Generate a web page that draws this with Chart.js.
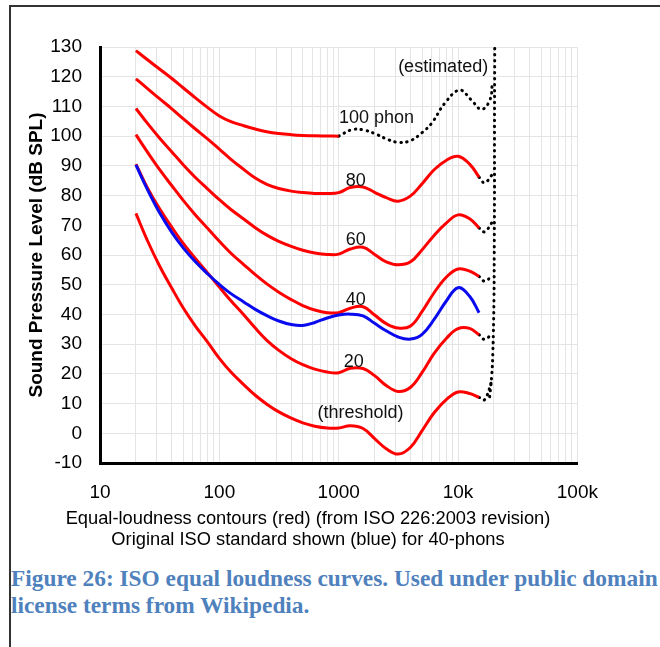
<!DOCTYPE html>
<html>
<head>
<meta charset="utf-8">
<script src="https://cdn.jsdelivr.net/npm/chart.js@4/dist/chart.umd.min.js"></script>
<style>
  html, body { margin:0; padding:0; background:#fff; width:660px; height:647px; overflow:hidden; }
  body { position:relative; }
  #frame { position:absolute; left:9px; top:5px; width:700px; height:700px; border-top:2px solid #333; border-left:2px solid #333; }
  #wrap { position:absolute; left:0; top:0; width:616px; height:560px; }
  #caption { position:absolute; left:11px; top:565px; font-family:"Liberation Serif", "Times New Roman", serif; font-weight:bold; font-size:24px; line-height:27px; color:#4F81BD; white-space:nowrap; transform:scaleX(0.973); transform-origin:0 0; }
</style>
</head>
<body>
<div id="frame"></div>
<div id="wrap"><canvas id="c" width="616" height="560"></canvas></div>
<div id="caption">Figure 26: ISO equal loudness curves. Used under public domain<br>license terms from Wikipedia.</div>
<script>
// ---- data (Hz, dB SPL) ----
const FREQ = [20, 25, 31.5, 40, 50, 63, 80, 100, 125, 160, 200, 250, 315, 400, 500, 630, 800, 1000, 1250, 1600, 2000, 2500, 3150, 4000, 5000, 6300, 8000, 10000, 12500, 15000];
const FREQ_100 = [20, 25, 31.5, 40, 50, 63, 80, 100, 125, 160, 200, 250, 315, 400, 500, 630, 800, 1000];

const PHON_THRESHOLD = [74.0, 64.8, 56.4, 48.8, 42.1, 36.1, 30.6, 25.2, 20.6, 16.4, 12.8, 9.8, 7.2, 5.1, 3.5, 2.4, 1.8, 1.8, 2.5, 1.6, -1.8, -5.2, -7.0, -4.7, 0.9, 6.9, 11.4, 13.9, 13.4, 12.1];
const PHON_20 = [90.6, 82.6, 75.6, 69.3, 63.8, 58.8, 53.9, 49.2, 44.6, 39.9, 35.4, 31.3, 27.9, 25.1, 23.1, 21.6, 20.6, 20.4, 21.9, 21.8, 19.4, 16.1, 14.1, 15.5, 20.5, 26.9, 32.0, 35.2, 35.3, 33.2];
const PHON_40 = [100.5, 94.6, 88.8, 83.3, 78.3, 73.5, 68.9, 64.6, 60.6, 56.8, 53.4, 50.3, 47.5, 45.0, 43.0, 41.5, 40.6, 40.6, 42.1, 42.6, 39.8, 36.9, 35.4, 36.1, 41.0, 47.3, 52.6, 55.3, 54.6, 52.8];
const PHON_60 = [109.3, 104.3, 99.4, 94.7, 90.3, 86.1, 82.2, 78.6, 75.3, 72.1, 69.2, 66.7, 64.6, 62.9, 61.6, 60.7, 60.2, 60.3, 62.0, 62.6, 60.2, 57.7, 56.7, 57.7, 61.8, 66.6, 70.8, 73.5, 72.2, 69.1];
const PHON_80 = [119.3, 116.0, 112.6, 109.2, 105.8, 102.4, 99.0, 95.6, 92.2, 88.8, 85.9, 83.8, 82.4, 81.5, 81.0, 80.7, 80.7, 81.0, 82.7, 82.9, 81.1, 79.3, 78.1, 79.9, 84.0, 88.7, 91.9, 93.2, 90.6, 86.2];
const PHON_100 = [128.8, 125.7, 122.6, 119.4, 116.2, 112.9, 109.6, 106.8, 104.9, 103.5, 102.4, 101.5, 100.9, 100.5, 100.25, 100.1, 100.05, 100.0];
const ORIGINAL_40 = [90.3, 82.0, 74.3, 67.6, 62.3, 57.7, 53.6, 50.1, 47.0, 44.2, 41.7, 39.6, 37.8, 36.6, 36.3, 37.3, 38.8, 39.8, 40.1, 39.5, 37.0, 34.5, 32.4, 31.7, 33.3, 38.3, 44.6, 49.0, 46.1, 40.6];

// estimated (dotted) parts
const EST_100_FREQ = [1000, 1300, 1650, 2100, 2600, 3200, 4000, 5000, 6000, 7750, 10300, 12900, 15700, 18500, 19400];
const EST_100_DB   = [100.0, 102.2, 102.0, 100.5, 98.8, 97.9, 98.5, 101.2, 104.3, 111.1, 115.5, 112.2, 109.0, 112.2, 118.0];
const EST_EDGE_FREQ = [18400, 19200, 19600, 20000, 20100, 20200, 20200, 20300];
const EST_EDGE_DB   = [12.3, 20, 28, 45, 60, 80, 100, 130];
const EST_END_FREQ = [15000, 16700, 19300];
const EST_T_DB  = [12.1, 11.3, 18.0];
const EST_20_DB = [33.2, 31.6, 33.5];
const EST_40_DB = [52.8, 51.2, 53.0];
const EST_60_DB = [69.1, 67.8, 71.0];
const EST_80_DB = [86.2, 84.3, 87.0];

// axis ticks
const X_TICK_VALUES = [10, 100, 1000, 10000, 100000];
const X_TICK_LABELS = ['10', '100', '1000', '10k', '100k'];

// curve annotations
const NOTE_TEXT = ['100 phon', '80', '60', '40', '20', '(threshold)', '(estimated)'];
const NOTE_FREQ = [2074, 1387, 1387, 1387, 1340, 1525, 7500];
const NOTE_DB   = [106.1, 84.9, 65.1, 44.9, 24.0, 6.8, 123.3];

const X_TITLE = ['Equal-loudness contours (red) (from ISO 226:2003 revision)', 'Original ISO standard shown (blue) for 40-phons'];
const Y_TITLE = 'Sound Pressure Level (dB SPL)';

// ---- build ----
const pts = (fs, vs) => fs.map((f, i) => ({ x: f, y: vs[i] }));
const FONT = "'Liberation Sans', Arial, Helvetica, sans-serif";

const red = (data) => ({ data, borderColor: '#ff0000', borderWidth: 3, pointRadius: 0, tension: 0.4, fill: false, order: 2 });
const dotted = (data) => ({ data, borderColor: '#000', borderWidth: 3, borderDash: [0.5, 5.5], borderCapStyle: 'round', pointRadius: 0, tension: 0.4, fill: false, order: 3 });

const gridTicks = [];
X_TICK_VALUES.forEach((v, i) => {
  if (i < X_TICK_VALUES.length - 1) { for (let k = 1; k <= 9; k++) gridTicks.push(v * k); }
  else gridTicks.push(v);
});

const notesPlugin = {
  id: 'notes',
  afterDatasetsDraw(chart) {
    const { ctx, scales: { x, y } } = chart;
    ctx.save();
    ctx.font = '18px ' + FONT;
    ctx.fillStyle = '#111';
    ctx.textAlign = 'center';
    ctx.textBaseline = 'middle';
    NOTE_TEXT.forEach((t, i) => ctx.fillText(t, x.getPixelForValue(NOTE_FREQ[i]), y.getPixelForValue(NOTE_DB[i])));
    ctx.restore();
  }
};

new Chart(document.getElementById('c'), {
  type: 'line',
  data: {
    datasets: [
      { data: pts(FREQ, ORIGINAL_40), borderColor: '#0a0aee', borderWidth: 3, pointRadius: 0, tension: 0.4, fill: false, order: 0 },
      red(pts(FREQ, PHON_THRESHOLD)),
      red(pts(FREQ, PHON_20)),
      red(pts(FREQ, PHON_40)),
      red(pts(FREQ, PHON_60)),
      red(pts(FREQ, PHON_80)),
      red(pts(FREQ_100, PHON_100)),
      dotted(pts(EST_100_FREQ, EST_100_DB)),
      dotted(pts(EST_EDGE_FREQ, EST_EDGE_DB)),
      dotted(pts(EST_END_FREQ, EST_T_DB)),
      dotted(pts(EST_END_FREQ, EST_20_DB)),
      dotted(pts(EST_END_FREQ, EST_40_DB)),
      dotted(pts(EST_END_FREQ, EST_60_DB)),
      dotted(pts(EST_END_FREQ, EST_80_DB))
    ]
  },
  options: {
    responsive: false,
    animation: false,
    events: [],
    layout: { padding: { top: 47, left: 0, right: 0, bottom: 0 } },
    plugins: {
      legend: { display: false },
      tooltip: { enabled: false },
      title: {
        display: true, position: 'bottom', fullSize: true, align: 'center',
        text: X_TITLE, color: '#000',
        font: { family: FONT, size: 18.3, weight: 'normal', lineHeight: 1.15 },
        padding: { top: 0, bottom: 9.4 }
      }
    },
    scales: {
      x: {
        type: 'logarithmic', min: 10, max: 100000,
        afterBuildTicks: (s) => { s.ticks = gridTicks.map(v => ({ value: v })); },
        afterFit: (s) => { s.height = 45.5; },
        grid: { color: '#e4e4e4', lineWidth: 1, drawTicks: false },
        border: { display: true, color: '#000', width: 3 },
        ticks: {
          autoSkip: false, maxRotation: 0, padding: 18, color: '#000',
          font: { family: FONT, size: 19 },
          callback: (v) => { const i = X_TICK_VALUES.indexOf(v); return i >= 0 ? X_TICK_LABELS[i] : ''; }
        }
      },
      y: {
        type: 'linear', min: -10, max: 130,
        afterFit: (s) => { s.width = 100; },
        grid: { color: '#e4e4e4', lineWidth: 1, drawTicks: false },
        border: { display: true, color: '#000', width: 3 },
        ticks: { stepSize: 10, padding: 18, color: '#000', font: { family: FONT, size: 19 } },
        title: { display: true, text: Y_TITLE, color: '#000', font: { family: FONT, size: 19, weight: 'bold' }, padding: { top: 25.6, bottom: 0 } }
      },
      yRight: {
        type: 'linear', position: 'right', display: true,
        afterFit: (s) => { s.width = 36; },
        grid: { display: false, drawTicks: false },
        border: { display: false },
        ticks: { display: false }
      }
    }
  },
  plugins: [notesPlugin]
});
</script>
</body>
</html>
